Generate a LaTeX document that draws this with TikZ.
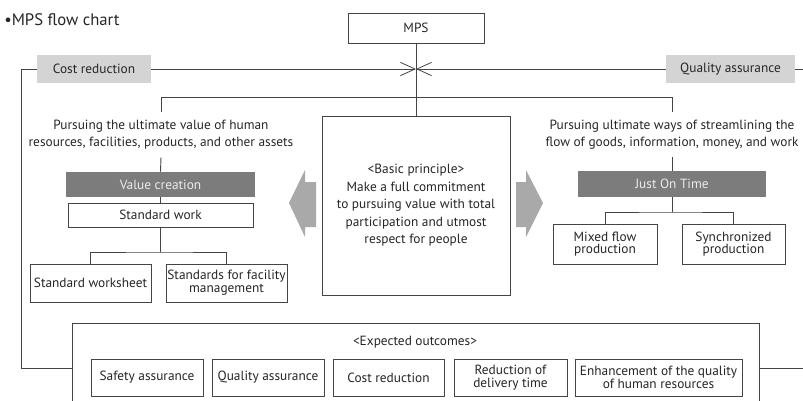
\documentclass[tikz,border=0pt]{standalone}
\usepackage{fontspec}
\setmainfont{PT Sans}
\usetikzlibrary{arrows.meta}
\definecolor{lnc}{HTML}{444444}
\definecolor{txt}{HTML}{262626}
\definecolor{dkc}{HTML}{7C7C7C}
\definecolor{ltc}{HTML}{D4D4D4}
\definecolor{arc}{HTML}{A9A9A9}
\begin{document}
\begin{tikzpicture}[x=0.75pt,y=-0.75pt,
  every node/.style={font=\fontsize{10}{12.75}\selectfont, text=txt},
  sz/.style 2 args={minimum width=#1*0.75pt, minimum height=#2*0.75pt},
  bx/.style={draw=lnc, line width=0.7pt, fill=white, align=center, inner sep=0pt,
    font=\fontsize{10}{9.6}\selectfont},
  dk/.style={fill=dkc, text=white!92!black, inner sep=0pt},
  lt/.style={fill=ltc, inner sep=0pt},
  para/.style={align=center, inner xsep=0pt, inner ysep=6pt},
  ln/.style={draw=lnc, line width=0.7pt},
  barb/.style={-{Straight Barb[length=11pt,width=10pt,line width=0.6pt]}}
]
\useasboundingbox (0,0) rectangle (803,400);
\clip (0,0) rectangle (803,400);

% title
\node[anchor=west, inner sep=0pt, font=\fontsize{12.5}{14}\selectfont] (title) at (4,20) {•MPS flow chart};

% top
\node[bx, sz={136}{30}] (mps) at (416,28) {MPS};
\node[lt, sz={114}{28}] (cost) at (94,69) {Cost reduction};
\node[lt, sz={129}{28}] (qual) at (730.5,69) {Quality assurance};
\coordinate (cross) at (416,69);
\coordinate (cornerL) at (21,69);
\coordinate (edgeR) at (803,69);

% centre
\node[bx, sz={188}{179}, font=\fontsize{10}{13.1}\selectfont] (cbox) at (416,205.5)
  {{<}Basic principle{>}\\Make a full commitment\\to pursuing value with total\\participation and utmost\\respect for people};
\coordinate (barL) at (161,97);
\coordinate (barR) at (672,97);

% left branch
\node[para] (ltext) at (161,134.5) {Pursuing the ultimate value of human\\resources, facilities, products, and other assets};
\node[dk, sz={189}{25}] (vc) at (160.5,184.5) {Value creation};
\node[bx, sz={185}{24}] (sw) at (160.5,215) {Standard work};
\node[bx, sz={121}{38}] (sws) at (90.5,283) {Standard worksheet};
\node[bx, sz={121}{38}] (sfm) at (226.5,283) {Standards for facility\\management};
\coordinate (swj) at (160.5,252);

% right branch
\node[para] (rtext) at (672,134.5) {Pursuing ultimate ways of streamlining the\\flow of goods, information, money, and work};
\node[dk, sz={188}{26}] (jot) at (672,184) {Just On Time};
\node[bx, sz={104}{40}] (mfp) at (605,244) {Mixed flow\\production};
\node[bx, sz={103}{40}] (sp) at (733.5,244) {Synchronized\\production};
\coordinate (jotj) at (672,212);

% outcomes
\node[bx, sz={687}{90}] (outer) at (415.5,368) {};
\node[inner sep=0pt] (exp) at (415,342) {{<}Expected outcomes{>}};
\node[bx, sz={112}{37}] (sa) at (147,377.5) {Safety assurance};
\node[bx, sz={112}{37}] (qa) at (268,377.5) {Quality assurance};
\node[bx, sz={111}{37}] (cr) at (388.5,377.5) {Cost reduction};
\node[bx, sz={113}{37}] (rdt) at (510.5,377.5) {Reduction of\\delivery time};
\node[bx, sz={167}{37}] (ehr) at (658.5,377.5) {Enhancement of the quality\\of human resources};
\coordinate (edgeR2) at (803,368);

% big arrows
\fill[arc] (289,203) -- (305,170) -- (305,182) -- (316,182) -- (316,227) -- (305,227) -- (305,237) -- cycle;
\fill[arc] (516,182) -- (526,182) -- (526,170) -- (543,203) -- (526,237) -- (526,227) -- (516,227) -- cycle;

% connectors
\draw[ln] (mps.south) -- (cbox.north);
\draw[ln, barb] (cost.east) -- (cross);
\draw[ln, barb] (qual.west) -- (cross);
\draw[ln] (qual.east) -- (edgeR);
\draw[ln] (cost.west) -- (cornerL) |- (outer.west);
\draw[ln] (outer.east) -- (edgeR2);
\draw[ln] (barL) -- (barR);
\draw[ln] (barL) -- (ltext.north);
\draw[ln] (ltext.south) -- (vc.north);
\draw[ln] (barR) -- (rtext.north);
\draw[ln] (rtext.south) -- (jot.north);
\draw[ln] (vc.south) -- (sw.north);
\draw[ln] (sw.south) -- (swj);
\draw[ln] (sws.north) |- (swj) -| (sfm.north);
\draw[ln] (jot.south) -- (jotj);
\draw[ln] (mfp.north) |- (jotj) -| (sp.north);
\end{tikzpicture}
\end{document}
